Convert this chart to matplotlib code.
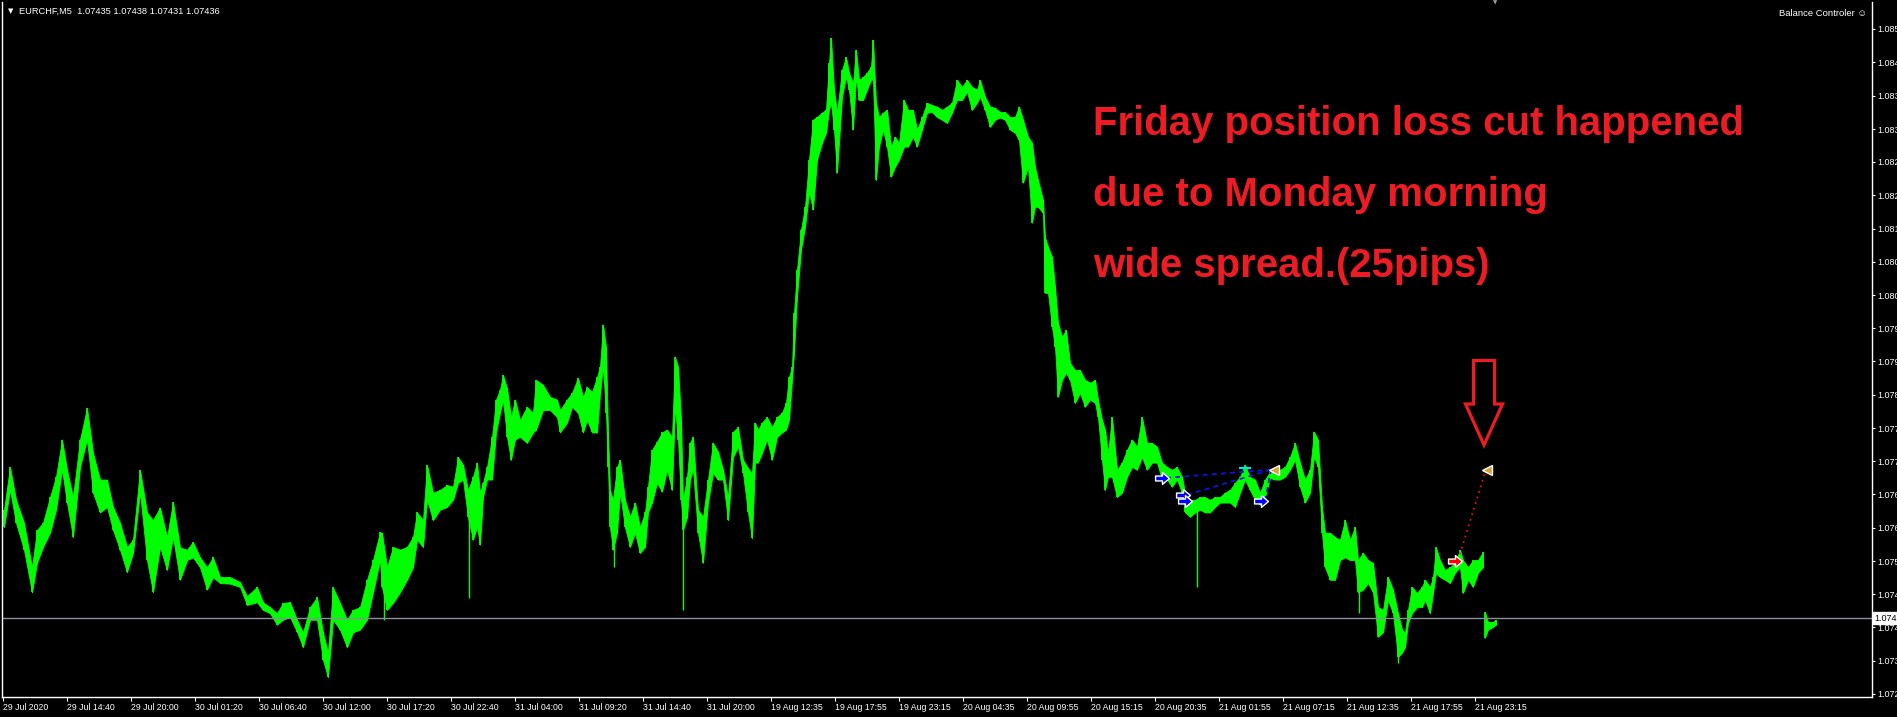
import matplotlib
matplotlib.use("Agg")
import matplotlib.pyplot as plt
from matplotlib.path import Path
from matplotlib.patches import Polygon
from matplotlib.transforms import Affine2D, blended_transform_factory

W, H = 1897, 717
LIME = "#00ff00"
RED = "#ed1c24"

# EURCHF M5 - high/low envelope (bar column, price)
bars = [4, 10, 16, 24, 32, 37, 43, 50, 56, 62, 67, 73, 80, 87, 93, 100, 107, 113, 120, 127,
        133, 140, 147, 153, 160, 167, 173, 180, 187, 193, 200, 207, 213, 220, 230, 240, 247, 257, 263, 270,
        277, 283, 290, 297, 303, 310, 317, 323, 328, 333, 340, 347, 353, 360, 367, 373, 380, 382, 387, 393,
        400, 407, 413, 417, 423, 427, 433, 440, 447, 453, 458, 463, 468, 473, 477, 480, 483, 487, 492, 496,
        500, 503, 507, 511, 515, 520, 527, 533, 536, 543, 550, 557, 560, 567, 572, 578, 583, 587, 592, 597,
        600, 603, 606, 608, 610, 613, 617, 620, 625, 630, 635, 640, 645, 648, 652, 657, 662, 667, 672, 675,
        678, 681, 683, 687, 690, 693, 698, 703, 708, 713, 718, 723, 728, 733, 738, 743, 748, 752, 755, 758,
        762, 767, 772, 777, 782, 786, 789, 792, 794, 797, 801, 805, 809, 813, 817, 822, 826, 829, 831, 834,
        837, 842, 846, 849, 853, 856, 859, 863, 867, 871, 873, 876, 879, 883, 887, 891, 895, 899, 904, 908,
        913, 917, 922, 927, 932, 937, 942, 947, 952, 957, 962, 967, 972, 977, 980, 985, 990, 995, 1000, 1005,
        1010, 1015, 1019, 1023, 1028, 1032, 1035, 1038, 1043, 1045, 1048, 1052, 1055, 1058, 1062, 1066, 1070, 1075, 1080, 1085,
        1090, 1095, 1098, 1102, 1105, 1108, 1112, 1117, 1122, 1127, 1132, 1137, 1142, 1147, 1152, 1157, 1162, 1167, 1172, 1177,
        1182, 1185, 1190, 1195, 1200, 1205, 1210, 1215, 1220, 1225, 1230, 1235, 1240, 1245, 1250, 1255, 1260, 1265, 1270, 1275,
        1280, 1285, 1290, 1295, 1300, 1305, 1310, 1314, 1318, 1322, 1325, 1330, 1335, 1340, 1345, 1350, 1355, 1358, 1363, 1368,
        1373, 1378, 1383, 1388, 1393, 1398, 1402, 1405, 1408, 1412, 1417, 1422, 1425, 1430, 1433, 1436, 1440, 1445, 1450, 1455,
        1460, 1463, 1468, 1473, 1478, 1483]
highs = [1.07634, 1.07712, 1.07652, 1.07610, 1.07529, 1.07597, 1.07610, 1.07657, 1.07694, 1.07762,
         1.07707, 1.07657, 1.07762, 1.07820, 1.07738, 1.07689, 1.07689, 1.07639, 1.07610, 1.07566,
         1.07579, 1.07707, 1.07629, 1.07615, 1.07638, 1.07584, 1.07648, 1.07565, 1.07561, 1.07575,
         1.07547, 1.07529, 1.07547, 1.07511, 1.07511, 1.07502, 1.07476, 1.07493, 1.07465, 1.07456,
         1.07445, 1.07464, 1.07465, 1.07433, 1.07410, 1.07456, 1.07474, 1.07410, 1.07373, 1.07492,
         1.07464, 1.07433, 1.07451, 1.07456, 1.07506, 1.07542, 1.07593, 1.07592, 1.07529, 1.07566,
         1.07561, 1.07566, 1.07584, 1.07629, 1.07615, 1.07716, 1.07665, 1.07670, 1.07679, 1.07676,
         1.07730, 1.07716, 1.07670, 1.07694, 1.07720, 1.07665, 1.07683, 1.07712, 1.07766, 1.07835,
         1.07853, 1.07880, 1.07856, 1.07803, 1.07835, 1.07798, 1.07822, 1.07811, 1.07871, 1.07862,
         1.07840, 1.07835, 1.07816, 1.07835, 1.07847, 1.07875, 1.07840, 1.07858, 1.07849, 1.07876,
         1.07895, 1.07972, 1.07931, 1.07775, 1.07670, 1.07652, 1.07712, 1.07725, 1.07652, 1.07621,
         1.07647, 1.07602, 1.07629, 1.07676, 1.07743, 1.07758, 1.07775, 1.07780, 1.07767, 1.07913,
         1.07895, 1.07798, 1.07652, 1.07694, 1.07756, 1.07767, 1.07634, 1.07621, 1.07689, 1.07756,
         1.07740, 1.07707, 1.07657, 1.07776, 1.07785, 1.07725, 1.07710, 1.07701, 1.07793, 1.07780,
         1.07793, 1.07803, 1.07785, 1.07803, 1.07811, 1.07829, 1.07876, 1.07895, 1.07993, 1.08072,
         1.08145, 1.08187, 1.08273, 1.08346, 1.08351, 1.08359, 1.08364, 1.08450, 1.08496, 1.08401,
         1.08359, 1.08437, 1.08461, 1.08432, 1.08413, 1.08474, 1.08419, 1.08424, 1.08432, 1.08443,
         1.08492, 1.08377, 1.08351, 1.08359, 1.08364, 1.08297, 1.08315, 1.08304, 1.08382, 1.08364,
         1.08364, 1.08328, 1.08351, 1.08377, 1.08373, 1.08370, 1.08364, 1.08370, 1.08377, 1.08419,
         1.08406, 1.08419, 1.08406, 1.08401, 1.08419, 1.08388, 1.08370, 1.08368, 1.08360, 1.08360,
         1.08351, 1.08351, 1.08370, 1.08346, 1.08315, 1.08304, 1.08260, 1.08236, 1.08200, 1.08132,
         1.08114, 1.08096, 1.08041, 1.07975, 1.07950, 1.07962, 1.07902, 1.07889, 1.07889, 1.07871,
         1.07866, 1.07871, 1.07835, 1.07798, 1.07780, 1.07738, 1.07803, 1.07707, 1.07720, 1.07743,
         1.07762, 1.07749, 1.07803, 1.07756, 1.07756, 1.07749, 1.07720, 1.07712, 1.07707, 1.07712,
         1.07694, 1.07665, 1.07652, 1.07652, 1.07657, 1.07657, 1.07652, 1.07657, 1.07657, 1.07665,
         1.07670, 1.07683, 1.07694, 1.07716, 1.07694, 1.07689, 1.07665, 1.07689, 1.07703, 1.07710,
         1.07707, 1.07712, 1.07730, 1.07756, 1.07720, 1.07689, 1.07707, 1.07776, 1.07762, 1.07639,
         1.07592, 1.07592, 1.07584, 1.07579, 1.07615, 1.07579, 1.07602, 1.07542, 1.07555, 1.07542,
         1.07537, 1.07456, 1.07451, 1.07511, 1.07488, 1.07445, 1.07415, 1.07410, 1.07451, 1.07493,
         1.07482, 1.07493, 1.07506, 1.07493, 1.07511, 1.07565, 1.07542, 1.07524, 1.07529, 1.07537,
         1.07561, 1.07542, 1.07529, 1.07542, 1.07542, 1.07557]
lows = [1.07602, 1.07670, 1.07610, 1.07561, 1.07483, 1.07537, 1.07566, 1.07592, 1.07634, 1.07707,
        1.07647, 1.07584, 1.07712, 1.07762, 1.07665, 1.07629, 1.07639, 1.07597, 1.07561, 1.07520,
        1.07555, 1.07665, 1.07542, 1.07483, 1.07566, 1.07524, 1.07584, 1.07506, 1.07542, 1.07547,
        1.07529, 1.07488, 1.07511, 1.07500, 1.07499, 1.07493, 1.07460, 1.07465, 1.07451, 1.07445,
        1.07424, 1.07433, 1.07438, 1.07411, 1.07383, 1.07433, 1.07433, 1.07360, 1.07328, 1.07433,
        1.07415, 1.07383, 1.07410, 1.07415, 1.07433, 1.07483, 1.07542, 1.07493, 1.07451, 1.07464,
        1.07483, 1.07506, 1.07529, 1.07579, 1.07566, 1.07652, 1.07615, 1.07634, 1.07639, 1.07652,
        1.07683, 1.07689, 1.07620, 1.07579, 1.07602, 1.07570, 1.07657, 1.07689, 1.07689, 1.07775,
        1.07811, 1.07835, 1.07767, 1.07725, 1.07762, 1.07767, 1.07756, 1.07775, 1.07780, 1.07816,
        1.07816, 1.07803, 1.07775, 1.07793, 1.07822, 1.07811, 1.07775, 1.07798, 1.07775, 1.07775,
        1.07847, 1.07895, 1.07811, 1.07712, 1.07602, 1.07561, 1.07592, 1.07665, 1.07602, 1.07566,
        1.07592, 1.07555, 1.07566, 1.07629, 1.07647, 1.07683, 1.07667, 1.07707, 1.07670, 1.07822,
        1.07762, 1.07652, 1.07597, 1.07620, 1.07689, 1.07707, 1.07592, 1.07537, 1.07647, 1.07701,
        1.07689, 1.07689, 1.07615, 1.07730, 1.07749, 1.07701, 1.07629, 1.07582, 1.07720, 1.07720,
        1.07738, 1.07762, 1.07725, 1.07767, 1.07775, 1.07780, 1.07798, 1.07871, 1.07920, 1.08023,
        1.08109, 1.08150, 1.08213, 1.08182, 1.08273, 1.08304, 1.08322, 1.08364, 1.08377, 1.08328,
        1.08249, 1.08388, 1.08424, 1.08401, 1.08328, 1.08424, 1.08382, 1.08382, 1.08401, 1.08419,
        1.08419, 1.08236, 1.08297, 1.08328, 1.08297, 1.08242, 1.08260, 1.08273, 1.08297, 1.08297,
        1.08315, 1.08297, 1.08328, 1.08359, 1.08360, 1.08351, 1.08346, 1.08340, 1.08359, 1.08382,
        1.08382, 1.08397, 1.08364, 1.08377, 1.08388, 1.08364, 1.08333, 1.08346, 1.08350, 1.08346,
        1.08328, 1.08322, 1.08309, 1.08231, 1.08260, 1.08158, 1.08187, 1.08187, 1.08176, 1.08030,
        1.08030, 1.07968, 1.07931, 1.07840, 1.07871, 1.07884, 1.07871, 1.07829, 1.07847, 1.07822,
        1.07835, 1.07829, 1.07803, 1.07725, 1.07670, 1.07694, 1.07694, 1.07657, 1.07665, 1.07694,
        1.07712, 1.07707, 1.07730, 1.07707, 1.07720, 1.07720, 1.07689, 1.07689, 1.07676, 1.07689,
        1.07665, 1.07629, 1.07621, 1.07629, 1.07634, 1.07629, 1.07629, 1.07639, 1.07647, 1.07647,
        1.07647, 1.07639, 1.07665, 1.07689, 1.07670, 1.07652, 1.07643, 1.07657, 1.07692, 1.07689,
        1.07689, 1.07694, 1.07707, 1.07725, 1.07676, 1.07647, 1.07665, 1.07730, 1.07712, 1.07592,
        1.07529, 1.07506, 1.07506, 1.07542, 1.07547, 1.07542, 1.07542, 1.07483, 1.07488, 1.07500,
        1.07483, 1.07402, 1.07410, 1.07469, 1.07445, 1.07365, 1.07373, 1.07383, 1.07427, 1.07445,
        1.07456, 1.07456, 1.07469, 1.07445, 1.07482, 1.07519, 1.07511, 1.07506, 1.07500, 1.07519,
        1.07529, 1.07482, 1.07506, 1.07493, 1.07519, 1.07529]

# single-bar wicks
spike_bars = [384, 469, 614, 683, 1197, 1359, 1398]
spike_highs = [1.07560, 1.07670, 1.07652, 1.07652, 1.07652, 1.07542, 1.07445]
spike_lows = [1.07433, 1.07473, 1.07529, 1.07451, 1.07493, 1.07445, 1.07354]

# Monday open bars (after the weekend spread)
monday_bars = [1485, 1488, 1493, 1496]
monday_highs = [1.07447, 1.07429, 1.07429, 1.07433]
monday_lows = [1.07400, 1.07415, 1.07420, 1.07424]

current_price = 1.07436

# trades
blue_entry_bars = [1162, 1183, 1185, 1261]
blue_entry_prices = [1.07692, 1.07661, 1.07650, 1.07650]
blue_close_bar = 1274
blue_close_price = 1.07707
red_entry_bar = 1455
red_entry_price = 1.07541
red_close_bar = 1487
red_close_price = 1.07707

time_labels = ["29 Jul 2020", "29 Jul 14:40", "29 Jul 20:00", "30 Jul 01:20", "30 Jul 06:40",
               "30 Jul 12:00", "30 Jul 17:20", "30 Jul 22:40", "31 Jul 04:00", "31 Jul 09:20",
               "31 Jul 14:40", "31 Jul 20:00", "19 Aug 12:35", "19 Aug 17:55", "19 Aug 23:15",
               "20 Aug 04:35", "20 Aug 09:55", "20 Aug 15:15", "20 Aug 20:35", "21 Aug 01:55",
               "21 Aug 07:15", "21 Aug 12:35", "21 Aug 17:55", "21 Aug 23:15"]
price_ticks = [1.08512, 1.08451, 1.08390, 1.08329, 1.08269, 1.08208, 1.08147, 1.08087, 1.08026,
               1.07965, 1.07905, 1.07844, 1.07783, 1.07722, 1.07662, 1.07601, 1.07540, 1.07480,
               1.07419, 1.07358, 1.07298]

plt.rcParams['font.family'] = ['Liberation Sans', 'DejaVu Sans']

fig = plt.figure(figsize=(W / 100, H / 100), dpi=100, facecolor="black")
ax = fig.add_axes([2 / W, 20 / H, 1870 / W, 695 / H], facecolor="black")
pix = Affine2D().scale(1 / W, -1 / H).translate(0, 1) + fig.transFigure

# price bars
ax.fill_between(bars, lows, highs, color=LIME, lw=0.6)
ax.vlines(bars, lows, highs, color=LIME, lw=1.3)
ax.vlines(spike_bars, spike_lows, spike_highs, color=LIME, lw=1.0)
ax.fill_between(monday_bars, monday_lows, monday_highs, color=LIME, lw=0.6)
ax.vlines(monday_bars, monday_lows, monday_highs, color=LIME, lw=1.3)

ax.axhline(current_price, color="#8a8f99", lw=1)

# trade lines and arrows
for b, p in zip([blue_entry_bars[0], blue_entry_bars[1], blue_entry_bars[3]],
                [blue_entry_prices[0], blue_entry_prices[1], blue_entry_prices[3]]):
    ax.plot([b + 4, blue_close_bar - 3], [p, blue_close_price], color="#1010ff", lw=1.2,
            dashes=(3, 2.5))
ax.plot([red_entry_bar + 5, red_close_bar - 2], [red_entry_price + 0.00012, red_close_price - 0.00005],
        color="#ff1010", lw=1.2, dashes=(1, 2.5))

arrow = Path([(-1, -0.35), (0, -0.35), (0, -0.85), (1, 0), (0, 0.85), (0, 0.35), (-1, 0.35), (-1, -0.35)],
             [Path.MOVETO] + [Path.LINETO] * 6 + [Path.CLOSEPOLY])
ax.plot(blue_entry_bars, blue_entry_prices, ls="none", marker=arrow, ms=10, mfc="#0000ff",
        mec="white", mew=1)
ax.plot([red_entry_bar], [red_entry_price], ls="none", marker=arrow, ms=10, mfc="#ff0000",
        mec="white", mew=1)
ax.plot([blue_close_bar, red_close_bar], [blue_close_price, red_close_price], ls="none", marker="<",
        ms=7, mfc="#d9a032", mec="white", mew=1)
ax.plot([1245], [1.07710], ls="none", marker="_", ms=8, mec="#00e5ff", mew=1.5)

ax.set_xlim(2, 1872)
ax.set_ylim(1.07292, 1.08561)

for s in ax.spines.values():
    s.set_color("white")
    s.set_linewidth(1)
ax.spines["top"].set_visible(False)

ax.set_xticks([3 + 64 * k for k in range(len(time_labels))])
ax.set_xticklabels(time_labels)
for lab in ax.get_xticklabels():
    lab.set_ha("left")
ax.tick_params(axis="x", direction="out", length=3, width=0.8, color="white", labelcolor="white",
               labelsize=6.3, pad=1.5)
ax.yaxis.tick_right()
ax.set_yticks(price_ticks)
ax.set_yticklabels([f"{v:.5f}" for v in price_ticks])
ax.tick_params(axis="y", direction="out", length=2.5, width=0.8, color="white", labelcolor="white",
               labelsize=6.5, pad=1.5)

# current price label on the right scale
ax.text(1.0015, current_price, f"{current_price:.5f}",
        transform=blended_transform_factory(ax.transAxes, ax.transData),
        ha="left", va="center", fontsize=6.5, color="black",
        bbox=dict(boxstyle="square,pad=0.15", fc="white", ec="white"))

# header
fig.text(10.5, 11, "\u25bc", transform=pix, color="white", fontsize=5, ha="center", va="center",
         family=["DejaVu Sans"])
fig.text(19, 11, "EURCHF,M5  1.07435 1.07438 1.07431 1.07436", transform=pix, color="white",
         fontsize=6.7, ha="left", va="center")
fig.text(1867, 13, "Balance Controler \u263a", transform=pix, color="white", fontsize=6.8,
         ha="right", va="center")
fig.text(1495, 3, "\u25bc", transform=pix, color="#9a9a9a", fontsize=4, ha="center", va="center",
         family=["DejaVu Sans"])

# note
for txt, yb in [("Friday position loss cut happened", 135), ("due to Monday morning", 206),
                ("wide spread.(25pips)", 277)]:
    fig.text(1093, yb, txt, transform=pix, color=RED, fontsize=28.9, fontweight="bold",
             ha="left", va="baseline")

fig.patches.append(Polygon([(1473.5, 360.5), (1494.5, 360.5), (1494.5, 404), (1502.5, 404),
                            (1484, 445), (1465.5, 404), (1473.5, 404)], closed=True, fill=False,
                           ec=RED, lw=2.3, joinstyle="miter", transform=pix, figure=fig))

fig.savefig("out.png", dpi=100, facecolor="black")
